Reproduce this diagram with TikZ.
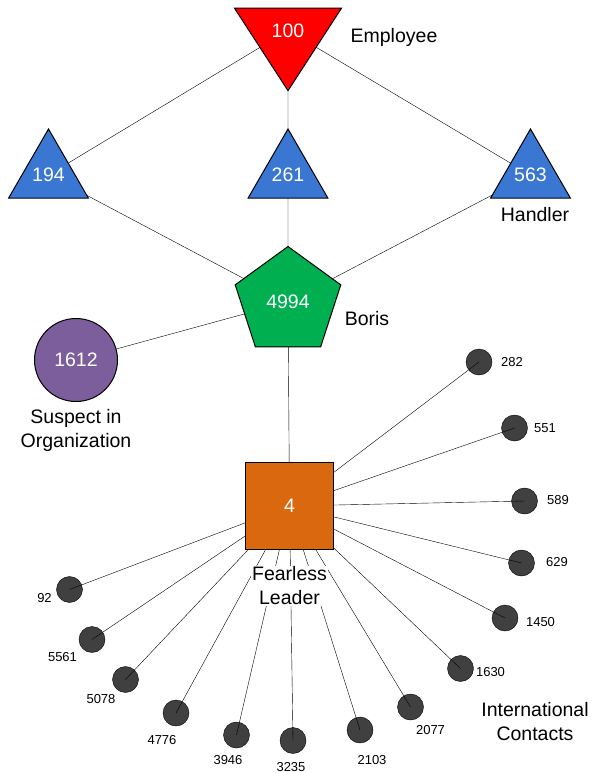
\documentclass[tikz,border=0pt]{standalone}
\usepackage{fontspec}
\setmainfont{Liberation Sans}
\usetikzlibrary{shapes.geometric}
\definecolor{handblue}{HTML}{3A77D2}
\definecolor{borisgreen}{HTML}{00B050}
\definecolor{suspurple}{HTML}{7B5E9B}
\definecolor{leadorange}{HTML}{D9680F}
\definecolor{contgray}{HTML}{404040}
\pgfdeclarelayer{dots}
\pgfdeclarelayer{wires}
\pgfsetlayers{dots,wires,main}

\begin{document}
\begin{tikzpicture}[x=1pt,y=-1pt,line width=1pt,
    every node/.style={font=\fontsize{19.5}{24}\selectfont},
    shapenum/.style={draw=black,text=white,inner sep=0pt},
    handler/.style={shapenum,regular polygon,regular polygon sides=3,minimum size=79.5pt,fill=handblue},
    contact/.style={circle,draw=black,fill=contgray,minimum size=26pt,inner sep=0pt},
    num/.style={font=\fontsize{13}{15}\selectfont,inner sep=0pt},
    tag/.style={align=center,inner sep=1pt}]
    \useasboundingbox (0,0) rectangle (601,773);

    \node[shapenum,isosceles triangle,isosceles triangle stretches,shape border rotate=-90,
      minimum width=107pt,minimum height=82.5pt,fill=red,anchor=apex] (n100) at (288,92) {100};
    \node[handler] (n194) at (48.5,175) {194};
    \node[handler] (n261) at (288,175) {261};
    \node[handler] (n563) at (530.5,175) {563};
    \node[shapenum,regular polygon,regular polygon sides=5,minimum size=111pt,fill=borisgreen] (n4994) at (288,302) {4994};
    \node[shapenum,circle,minimum size=83pt,fill=suspurple] (n1612) at (76,360) {1612};
    \node[shapenum,rectangle,minimum size=87.5pt,fill=leadorange] (n4) at (289.5,506) {4};

    \node (employee) at (394,37) {Employee};
    \node (handlertag) at (535,215) {Handler};
    \node (boristag) at (367,319) {Boris};
    \node[tag] (suspect) at (76,430) {Suspect in\\Organization};
    \node[tag,fill=white] (fearless) at (289.5,586) {Fearless\\Leader};
    \node[tag] (intl) at (535,722) {International\\Contacts};

    % contacts round the leader
    \begin{pgfonlayer}{dots}
    \foreach \n/\x/\y/\lx/\ly in {282/479/362/512/362, 551/514.5/428/545/428,
        589/524.5/501/558/500, 629/521.5/563/557/562, 1450/505/618/540.5/622.5,
        1630/460.5/668.5/490.5/672, 2077/410.5/707/430.5/730.5, 2103/360/730/372/760,
        3235/293/740.5/291/767, 3946/236.5/735/228/760, 4776/176/713/162/740,
        5078/125.5/679.5/101/699, 5561/92/639.5/62.5/657, 92/69.5/589.5/44.5/598}
      {
      \node[contact] (c\n) at (\x,\y) {};
      \node[num] (t\n) at (\lx,\ly) {\n};
      }
    \end{pgfonlayer}

    \begin{pgfonlayer}{wires}
    \draw (n100.center) -- (n194.center) (n100.center) -- (n261.center)
      (n100.center) -- (n563.center);
    \draw (n194.center) -- (n4994.center) (n261.center) -- (n4994.center)
      (n563.center) -- (n4994.center);
    \draw (n4994.center) -- (n1612.center) (n4994.center) -- (n4.center);
    \foreach \n in {282,551,589,629,1450,1630,2077,2103,3235,3946,4776,5078,5561,92}
      \draw (n4.center) -- (c\n.center);
    \end{pgfonlayer}
\end{tikzpicture}
\end{document}
